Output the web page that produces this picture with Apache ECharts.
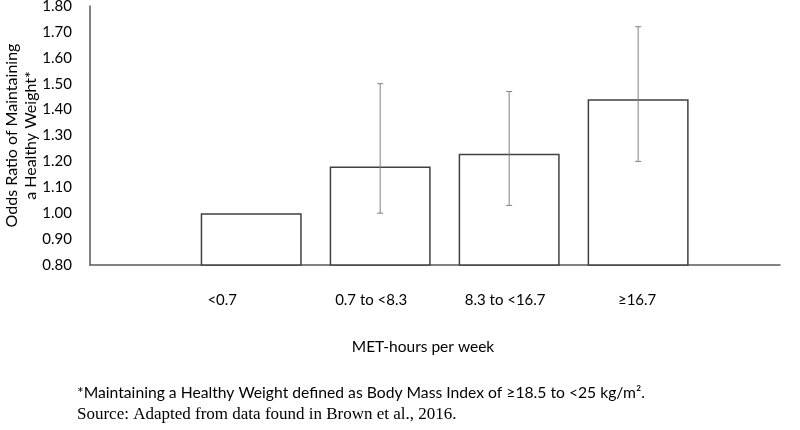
<!DOCTYPE html>
<html>
<head>
<meta charset="utf-8">
<script src="https://cdn.jsdelivr.net/npm/echarts@6/dist/echarts.min.js"></script>
<style>
  html, body { margin: 0; padding: 0; background: #fff; }
  #chart { width: 800px; height: 430px; }
</style>
</head>
<body>
<div id="chart"></div>
<script>
// MET-hours per week groups
const categories = ['<0.7', '0.7 to <8.3', '8.3 to <16.7', '≥16.7'];
const oddsRatios = [1.00, 1.18, 1.23, 1.44];
// 95% CI, reference group has none
const ciLower = [null, 1.00, 1.03, 1.20];
const ciUpper = [null, 1.50, 1.47, 1.72];
const yMin = 0.8;
const yMax = 1.8;
const yStep = 0.1;

const chart = echarts.init(document.getElementById('chart'));

const barData = oddsRatios.map((v, i) => [i + 1, v]);
const errData = oddsRatios
  .map((v, i) => [i + 1, ciLower[i], ciUpper[i]])
  .filter((d) => d[1] != null);

const font = 'Lato, "Open Sans", sans-serif';

// labels in the original sit a bit left of the bar centres
const labelPadRight = [58, 18, 8, 2];
const labelRich = {};
labelPadRight.forEach((p, i) => {
  labelRich['c' + i] = { fontSize: 15, fontFamily: font, color: '#000', padding: [0, p, 0, 0] };
});

const option = {
  backgroundColor: '#fff',
  animation: false,
  grid: { left: 90, right: 20, top: 6, bottom: 165, outerBoundsMode: 'none', containLabel: false },
  xAxis: {
    type: 'value',
    min: -0.25,
    max: 5.1,
    name: 'MET-hours per week',
    nameLocation: 'middle',
    nameGap: 74,
    nameMoveOverlap: false,
    nameTextStyle: { color: '#000', fontSize: 15.5, fontFamily: font, padding: [0, 24, 0, 0] },
    axisLine: { show: true, onZero: false, lineStyle: { color: '#595959', width: 1.5 } },
    axisTick: { show: false },
    splitLine: { show: false },
    axisLabel: {
      customValues: [1, 2, 3, 4],
      margin: 28,
      color: '#000',
      fontSize: 15,
      fontFamily: font,
      rich: labelRich,
      formatter: (v) => {
        const i = Math.round(v) - 1;
        return categories[i] ? '{c' + i + '|' + categories[i] + '}' : '';
      },
    },
  },
  yAxis: {
    type: 'value',
    min: yMin,
    max: yMax,
    interval: yStep,
    name: 'Odds Ratio of Maintaining\na Healthy Weight*',
    nameLocation: 'middle',
    nameGap: 50,
    nameMoveOverlap: false,
    nameTextStyle: { color: '#000', fontSize: 16, fontFamily: font, lineHeight: 19 },
    axisLine: { show: true, onZero: false, lineStyle: { color: '#595959', width: 1.5 } },
    axisTick: { show: false },
    splitLine: { show: false },
    axisLabel: {
      margin: 18,
      color: '#000',
      fontSize: 15,
      fontFamily: font,
      formatter: (v) => v.toFixed(2),
    },
  },
  series: [
    {
      type: 'bar',
      data: barData,
      barWidth: 101,
      itemStyle: { color: '#fff', borderColor: '#404040', borderWidth: 1.5 },
    },
    {
      type: 'custom',
      data: errData,
      z: 10,
      renderItem: (params, api) => {
        const x = api.value(0);
        const lo = api.coord([x, api.value(1)]);
        const hi = api.coord([x, api.value(2)]);
        const cap = 3;
        const style = { stroke: '#808080', lineWidth: 1 };
        return {
          type: 'group',
          children: [
            { type: 'line', shape: { x1: lo[0], y1: lo[1], x2: hi[0], y2: hi[1] }, style },
            { type: 'line', shape: { x1: lo[0] - cap, y1: lo[1], x2: lo[0] + cap, y2: lo[1] }, style },
            { type: 'line', shape: { x1: hi[0] - cap, y1: hi[1], x2: hi[0] + cap, y2: hi[1] }, style },
          ],
        };
      },
    },
  ],
  graphic: [
    {
      type: 'text',
      left: 77,
      top: 385,
      style: {
        text: '*Maintaining a Healthy Weight defined as Body Mass Index of ≥18.5 to <25 kg/m².',
        fill: '#000',
        font: '15.7px ' + font,
      },
    },
    {
      type: 'text',
      left: 77,
      top: 406,
      style: {
        text: 'Source: Adapted from data found in Brown et al., 2016.',
        fill: '#000',
        font: '17px "Liberation Serif", "Times New Roman", serif',
      },
    },
  ],
};

chart.setOption(option);
</script>
</body>
</html>
